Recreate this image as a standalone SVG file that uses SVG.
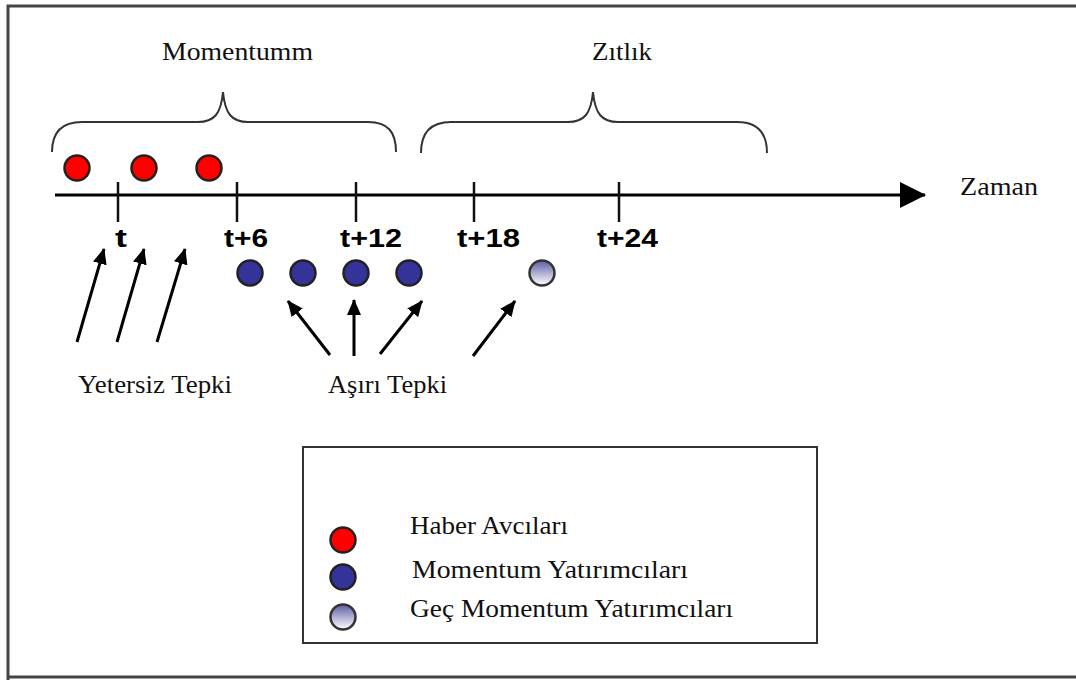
<svg xmlns="http://www.w3.org/2000/svg" width="1076" height="680" viewBox="0 0 1076 680">
<defs>
<marker id="ah" viewBox="0 0 16 14" refX="15" refY="7" markerWidth="16" markerHeight="14" markerUnits="userSpaceOnUse" orient="auto">
<path d="M0,0 L16,7 L0,14 Z" fill="#000"/>
</marker>
<marker id="axh" viewBox="0 0 26 26" refX="25" refY="13" markerWidth="26" markerHeight="26" markerUnits="userSpaceOnUse" orient="auto">
<path d="M0,0 L26,13 L0,26 Z" fill="#000"/>
</marker>
<linearGradient id="lg" x1="0" y1="0" x2="0" y2="1">
<stop offset="0" stop-color="#5c5ca4"/>
<stop offset="1" stop-color="#ffffff"/>
</linearGradient>
<style>
.serif{font-family:"Liberation Serif","Times New Roman",serif;font-size:25px;fill:#111}
.bold{font-family:"Liberation Sans",Arial,sans-serif;font-weight:bold;font-size:26px;fill:#000}
.tick{stroke:#111;stroke-width:2.5}
.brace{fill:none;stroke:#333;stroke-width:2}
.arr{stroke:#000;stroke-width:3;marker-end:url(#ah)}
.red{fill:#ff0000;stroke:#222;stroke-width:2.5}
.blue{fill:#333399;stroke:#222;stroke-width:2.5}
.late{fill:url(#lg);stroke:#333;stroke-width:2.5}
</style>
</defs>
<rect width="1076" height="680" fill="#fff"/>
<path d="M8,680 L8,6 L1076,6 M8,677 L1076,677" fill="none" stroke="#444" stroke-width="3"/>

<g id="braces">
<path class="brace" d="M52,152 C52,132 62,122 82,122 L198,122 C214,122 221,114 223,92 C225,114 232,122 248,122 L368,122 C388,122 396,132 396,152"/>
<path class="brace" d="M421,153 C421,133 431,122 451,122 L568,122 C584,122 591,114 593,92 C595,114 602,122 618,122 L737,122 C757,122 767,133 767,153"/>
<text class="serif" x="162" y="60" textLength="151" lengthAdjust="spacingAndGlyphs">Momentumm</text>
<text class="serif" x="592" y="60" textLength="60" lengthAdjust="spacingAndGlyphs">Zıtlık</text>
</g>

<g id="timeline">
<line x1="55" y1="195" x2="925" y2="195" stroke="#000" stroke-width="3" marker-end="url(#axh)"/>
<line class="tick" x1="118" y1="182" x2="118" y2="222"/>
<line class="tick" x1="237" y1="182" x2="237" y2="222"/>
<line class="tick" x1="356" y1="182" x2="356" y2="222"/>
<line class="tick" x1="474" y1="182" x2="474" y2="222"/>
<line class="tick" x1="619" y1="182" x2="619" y2="222"/>
<text class="bold" x="115" y="247" textLength="12" lengthAdjust="spacingAndGlyphs">t</text>
<text class="bold" x="224" y="247" textLength="44" lengthAdjust="spacingAndGlyphs">t+6</text>
<text class="bold" x="340" y="247" textLength="62" lengthAdjust="spacingAndGlyphs">t+12</text>
<text class="bold" x="457" y="247" textLength="63" lengthAdjust="spacingAndGlyphs">t+18</text>
<text class="bold" x="597" y="247" textLength="61" lengthAdjust="spacingAndGlyphs">t+24</text>
<text class="serif" x="960" y="195" textLength="78" lengthAdjust="spacingAndGlyphs">Zaman</text>
</g>

<g id="haber-avcilari">
<circle class="red" cx="77" cy="168" r="12.5"/>
<circle class="red" cx="144" cy="168" r="12.5"/>
<circle class="red" cx="209" cy="168" r="12.5"/>
</g>

<g id="momentum-yatirimcilari">
<circle class="blue" cx="250" cy="273" r="12.5"/>
<circle class="blue" cx="303" cy="273" r="12.5"/>
<circle class="blue" cx="356" cy="273" r="12.5"/>
<circle class="blue" cx="409" cy="273" r="12.5"/>
</g>

<g id="gec-momentum">
<circle class="late" cx="542" cy="273" r="12.5"/>
</g>

<g id="connectors">
<line class="arr" x1="77" y1="342" x2="104" y2="249"/>
<line class="arr" x1="117" y1="342" x2="144" y2="249"/>
<line class="arr" x1="157" y1="342" x2="185" y2="249"/>
<line class="arr" x1="330" y1="355" x2="288" y2="301"/>
<line class="arr" x1="354" y1="356" x2="354" y2="300"/>
<line class="arr" x1="380" y1="354" x2="422" y2="301"/>
<line class="arr" x1="473" y1="356" x2="515" y2="301"/>
</g>

<g id="labels">
<text class="serif" x="78" y="393" textLength="154" lengthAdjust="spacingAndGlyphs">Yetersiz Tepki</text>
<text class="serif" x="328" y="393" textLength="119" lengthAdjust="spacingAndGlyphs">Aşırı Tepki</text>
</g>

<g id="legend">
<rect x="303" y="447" width="514" height="196" fill="#fff" stroke="#333" stroke-width="2"/>
<circle class="red" cx="343" cy="540" r="12.5"/>
<circle class="blue" cx="343" cy="577" r="12.5"/>
<circle class="late" cx="343" cy="617" r="12.5"/>
<text class="serif" x="410" y="534" textLength="158" lengthAdjust="spacingAndGlyphs">Haber Avcıları</text>
<text class="serif" x="412" y="578" textLength="276" lengthAdjust="spacingAndGlyphs">Momentum Yatırımcıları</text>
<text class="serif" x="410" y="617" textLength="323" lengthAdjust="spacingAndGlyphs">Geç Momentum Yatırımcıları</text>
</g>
</svg>
